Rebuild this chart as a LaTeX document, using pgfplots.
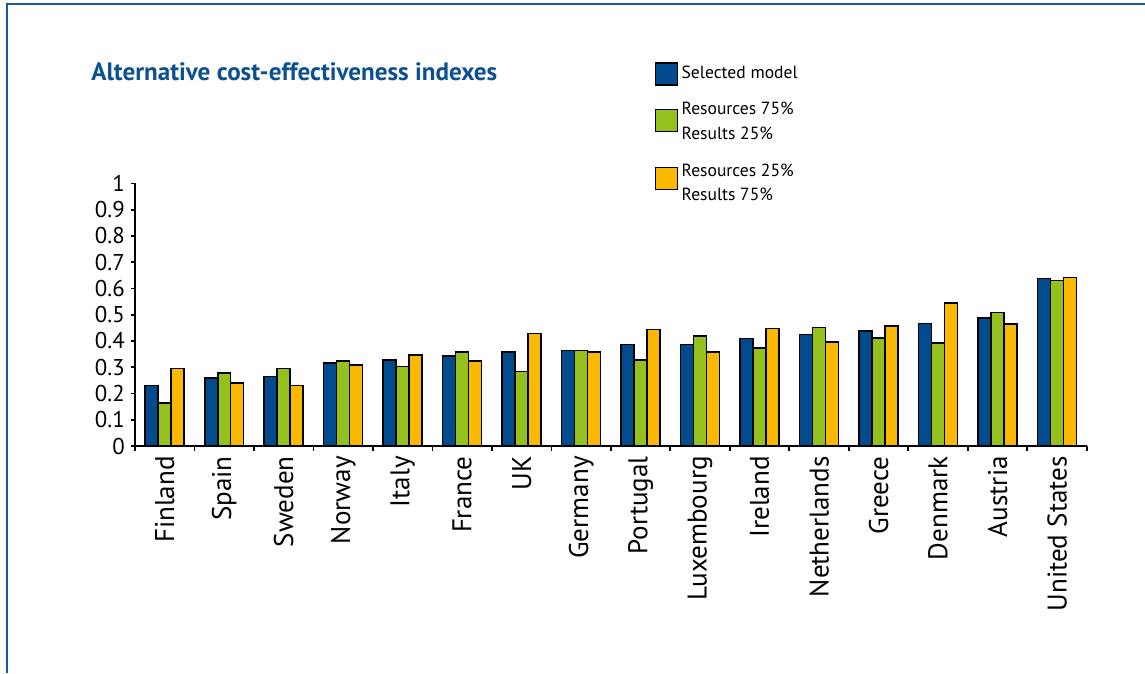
\documentclass[border=0pt]{standalone}
\usepackage{pgfplots}
\pgfplotsset{compat=1.18}
\usepackage{fontspec}
\setmainfont{PT Sans}
\definecolor{cblue}{RGB}{0,75,141}
\definecolor{cgreen}{RGB}{149,193,31}
\definecolor{corange}{RGB}{251,184,0}
\definecolor{ctitle}{RGB}{12,80,145}
\definecolor{cframe}{RGB}{20,90,160}
\pgfplotsset{
  sqleg/.style={legend image code/.code={\draw[##1,draw=black,line width=0.9pt] (0cm,-0.22cm) rectangle (0.44cm,0.22cm);}},
  sqlega/.style={legend image code/.code={\draw[##1,draw=black,line width=0.9pt] (0cm,-0.37cm) rectangle (0.44cm,0.07cm);}},
  sqlegb/.style={legend image code/.code={\draw[##1,draw=black,line width=0.9pt] (0cm,-0.52cm) rectangle (0.44cm,-0.08cm);}},
}
\begin{document}
\begin{tikzpicture}
\begin{scope}[x=0.02cm,y=0.02cm]
\path[use as bounding box] (0,0) rectangle (1145,673);
\draw[cframe,line width=1.2pt] (7,0) -- (7,669) -- (1145,669);
\node[anchor=west,font=\bfseries\fontsize{14.3}{16}\selectfont,text=ctitle,inner sep=0] at (91,601) {Alternative cost-effectiveness indexes};
\end{scope}
\begin{axis}[
  at={(2.7cm,4.54cm)}, anchor=south west,
  scale only axis, width=19.04cm, height=5.254cm,
  ybar=0pt, bar width=0.26cm,
  xmin=-0.5, xmax=15.5, ymin=0, ymax=1,
  axis x line*=bottom, axis y line*=left,
  axis line style={black,line width=1.1pt},
  xtick={0,...,15},
  xticklabels={Finland,Spain,Sweden,Norway,Italy,France,UK,Germany,Portugal,Luxembourg,Ireland,Netherlands,Greece,Denmark,Austria,United States},
  major x tick style={draw=none},
  minor xtick={-0.5,0.5,...,15.5},
  minor tick length=0.1cm,
  major tick length=0.08cm,
  tick align=outside,
  tick style={black,line width=1pt},
  x tick label style={rotate=90,anchor=east,font=\fontsize{15.4}{17}\selectfont},
  ytick={0,0.1,0.2,0.3,0.4,0.5,0.6,0.7,0.8,0.9,1},
  yticklabels={0,0.1,0.2,0.3,0.4,0.5,0.6,0.7,0.8,0.9,1},
  y tick label style={font=\fontsize{13}{14}\selectfont},
  legend style={at={(0.540,1.476)}, anchor=north west, draw=none, fill=none,
    font=\fontsize{10}{14}\selectfont, row sep=0.16cm, legend cell align=left},
]
\addplot[fill=cblue,draw=black,line width=0.9pt,sqleg] coordinates {
(0,0.231) (1,0.258) (2,0.265) (3,0.317) (4,0.327) (5,0.343) (6,0.358) (7,0.363)
(8,0.387) (9,0.387) (10,0.409) (11,0.425) (12,0.437) (13,0.467) (14,0.487) (15,0.638)};
\addplot[fill=cgreen,draw=black,line width=0.9pt,sqlega] coordinates {
(0,0.164) (1,0.279) (2,0.296) (3,0.324) (4,0.303) (5,0.358) (6,0.284) (7,0.363)
(8,0.327) (9,0.418) (10,0.373) (11,0.452) (12,0.412) (13,0.393) (14,0.509) (15,0.631)};
\addplot[fill=corange,draw=black,line width=0.9pt,sqlegb] coordinates {
(0,0.296) (1,0.239) (2,0.231) (3,0.308) (4,0.346) (5,0.324) (6,0.429) (7,0.358)
(8,0.444) (9,0.358) (10,0.448) (11,0.397) (12,0.457) (13,0.544) (14,0.464) (15,0.642)};
\legend{Selected model,{\begin{tabular}{@{}l@{}}Resources 75\%\\Results 25\%\end{tabular}},{\begin{tabular}{@{}l@{}}\rule{0pt}{0.645cm}Resources 25\%\\Results 75\%\end{tabular}}}
\end{axis}
\end{tikzpicture}
\end{document}
